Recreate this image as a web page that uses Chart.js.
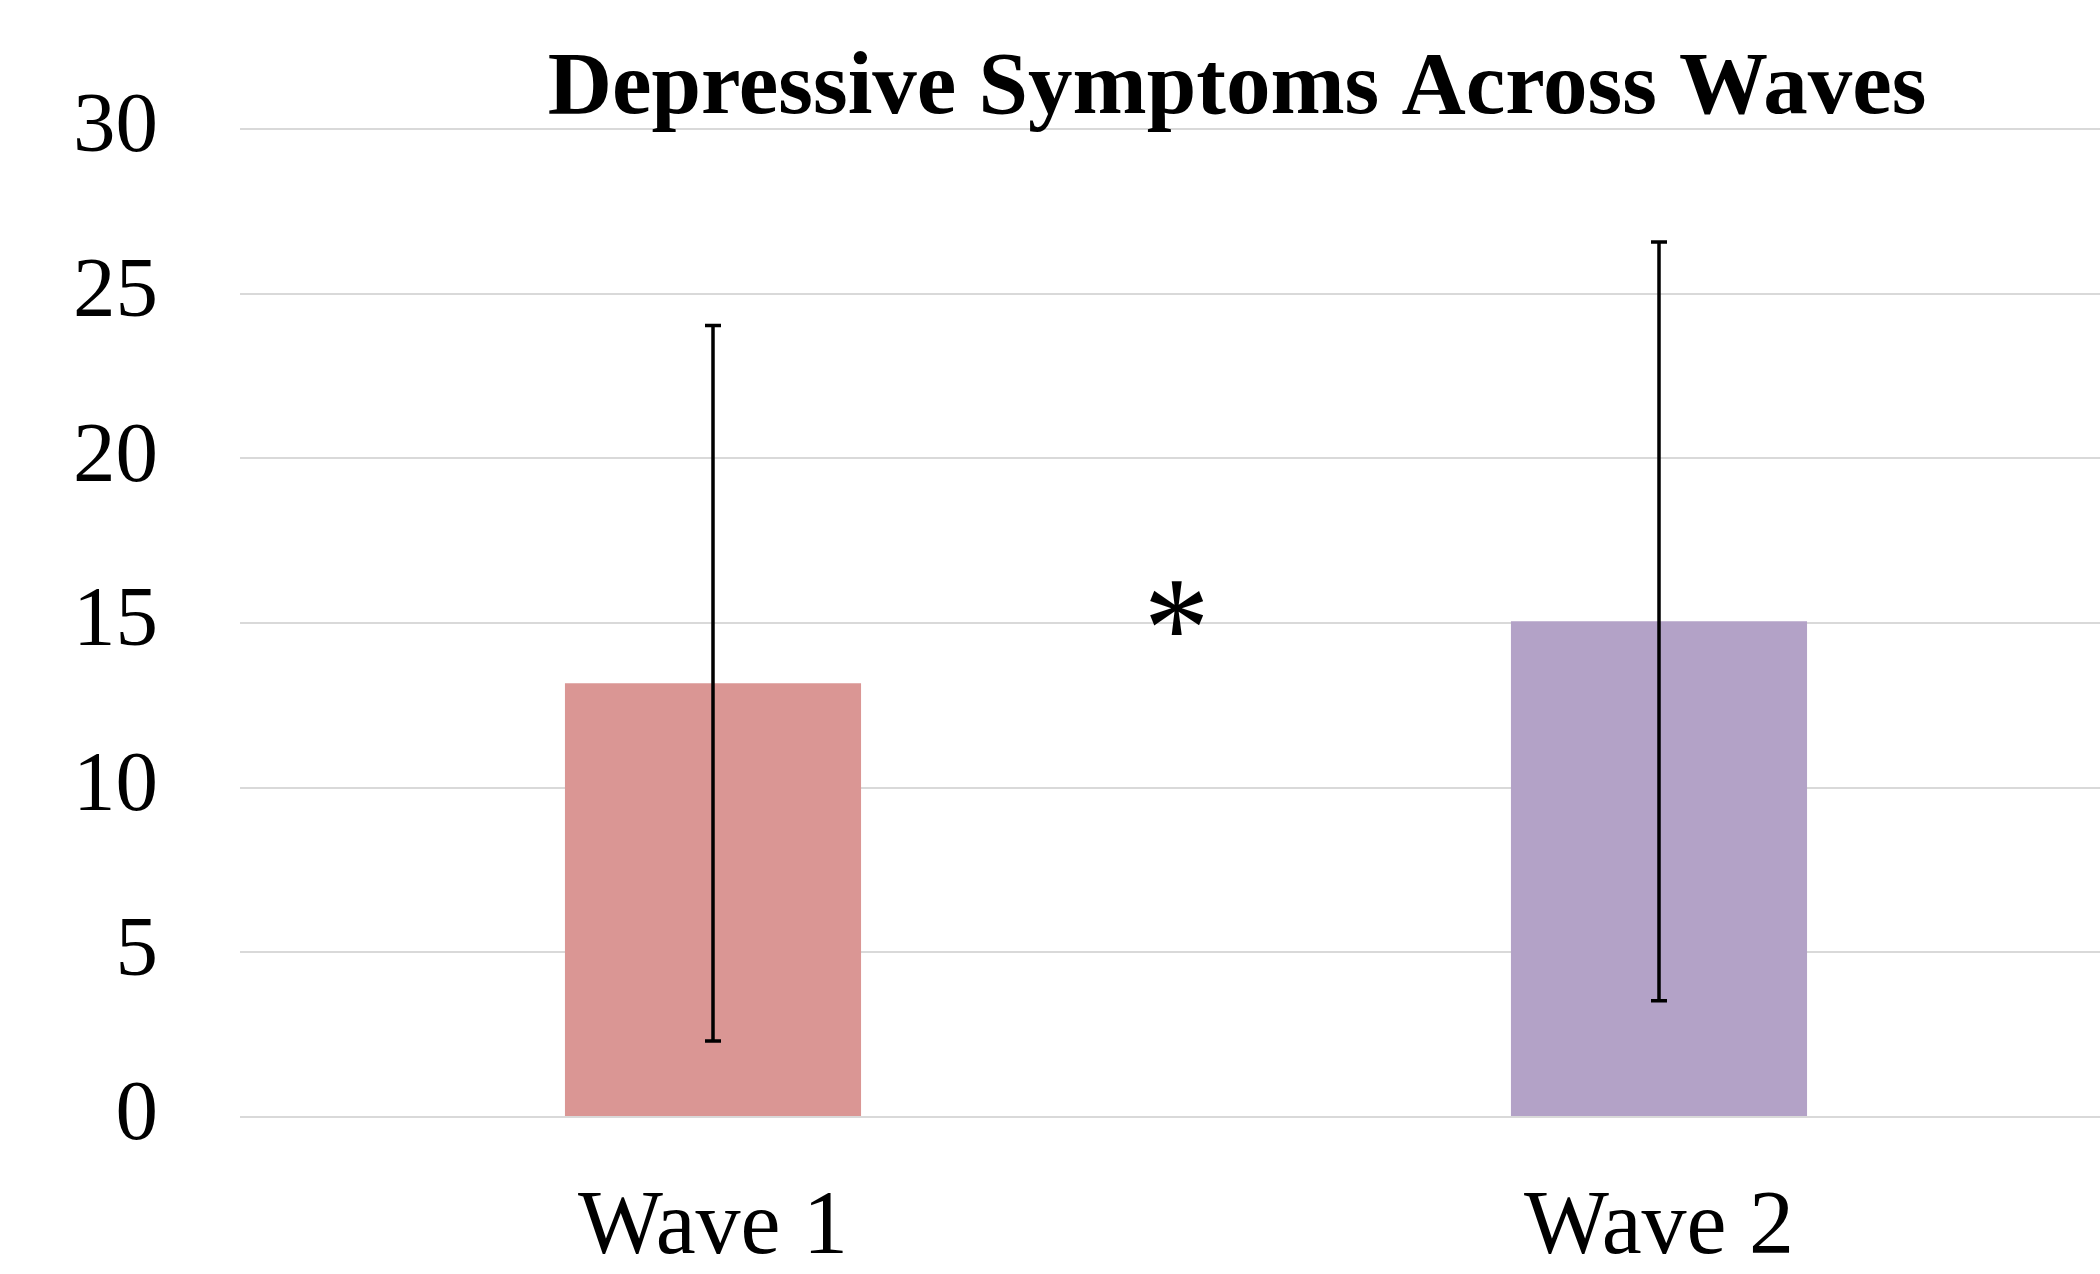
<!DOCTYPE html>
<html>
<head>
<meta charset="utf-8">
<script src="https://cdn.jsdelivr.net/npm/chart.js@4"></script>
<style>
  html, body { margin: 0; padding: 0; background: #fff; overflow: hidden; }
  #wrap { width: 2100px; height: 1274px; overflow: hidden; position: relative; }
  canvas { display: block; }
</style>
</head>
<body>
<div id="wrap"><canvas id="c" width="2132" height="1274"></canvas></div>
<script>
// ---- data ----
const categories = ['Wave 1', 'Wave 2'];
const meanValues = [13.17, 15.05];
const sdValues = [10.86, 11.52];
const barColors = ['#DA9694', '#B3A2C7'];
const yTicks = [0, 5, 10, 15, 20, 25, 30];
const chartTitle = 'Depressive Symptoms Across Waves';
const sigMark = '*';
const sigPosition = [0.49, 15.45]; // x (category index), y (value)

const SERIF = '"Liberation Serif", "DejaVu Serif", serif';

const errorBarPlugin = {
  id: 'errorBars',
  afterDatasetsDraw(chart) {
    const ctx = chart.ctx;
    const xs = chart.scales.x, ys = chart.scales.y;
    ctx.save();
    ctx.strokeStyle = '#000';
    ctx.lineWidth = 3.5;
    meanValues.forEach((m, i) => {
      const x = xs.getPixelForValue(i);
      const yTop = ys.getPixelForValue(m + sdValues[i]);
      const yBot = ys.getPixelForValue(m - sdValues[i]);
      ctx.beginPath();
      ctx.moveTo(x, yTop); ctx.lineTo(x, yBot);
      ctx.moveTo(x - 8, yTop); ctx.lineTo(x + 8, yTop);
      ctx.moveTo(x - 8, yBot); ctx.lineTo(x + 8, yBot);
      ctx.stroke();
    });
    // significance marker
    const sx = xs.getPixelForValue(sigPosition[0]);
    const sy = ys.getPixelForValue(sigPosition[1]);
    ctx.fillStyle = '#000';
    ctx.font = '100px ' + SERIF;
    let mt = ctx.measureText(sigMark);
    let h = mt.actualBoundingBoxAscent + mt.actualBoundingBoxDescent;
    const size = 100 * 54 / h;
    ctx.font = size + 'px ' + SERIF;
    mt = ctx.measureText(sigMark);
    ctx.textAlign = 'center';
    ctx.textBaseline = 'alphabetic';
    const asc = mt.actualBoundingBoxAscent, desc = mt.actualBoundingBoxDescent;
    ctx.save();
    ctx.translate(sx, sy + (asc - desc) / 2);
    ctx.scale(0.9, 1);
    ctx.fillText(sigMark, 0, 0);
    ctx.restore();
    // title
    ctx.font = 'bold 89px ' + SERIF;
    ctx.textAlign = 'center';
    ctx.textBaseline = 'alphabetic';
    ctx.fillText(chartTitle, 1237, 113);
    ctx.restore();
  }
};

new Chart(document.getElementById('c'), {
  type: 'bar',
  data: {
    labels: categories,
    datasets: [{
      data: meanValues,
      backgroundColor: barColors,
      borderWidth: 0,
      categoryPercentage: 1.0,
      barPercentage: 0.313
    }]
  },
  options: {
    responsive: false,
    devicePixelRatio: 1,
    animation: false,
    layout: { padding: { top: 129, left: 0, right: 0, bottom: 0 } },
    plugins: {
      legend: { display: false },
      title: { display: false },
      tooltip: { enabled: false }
    },
    scales: {
      x: {
        grid: { display: false, drawTicks: false },
        border: { display: false },
        ticks: {
          color: '#000',
          font: { family: SERIF, size: 90 },
          padding: 58
        },
        afterFit(scale) { scale.height = 157; }
      },
      y: {
        min: 0, max: 30,
        afterBuildTicks(scale) { scale.ticks = yTicks.map(v => ({ value: v })); },
        grid: { color: '#D9D9D9', lineWidth: 2, drawTicks: false },
        border: { display: false },
        ticks: {
          color: '#000',
          font: { family: SERIF, size: 85 },
          padding: 82
        },
        afterFit(scale) {
          scale.width = 240;
          scale.paddingTop = 0;
          scale.paddingBottom = 0;
        }
      }
    }
  },
  plugins: [errorBarPlugin]
});
</script>
</body>
</html>
